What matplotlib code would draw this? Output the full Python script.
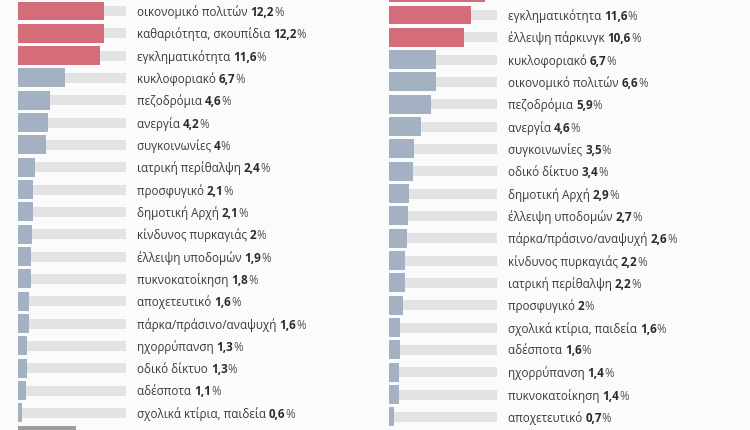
import matplotlib.pyplot as plt

plt.rcParams['font.family'] = ['Open Sans', 'DejaVu Sans']

# αριστερή στήλη
left_labels = ['οικονομικό πολιτών', 'καθαριότητα, σκουπίδια', 'εγκληματικότητα',
               'κυκλοφοριακό', 'πεζοδρόμια', 'ανεργία', 'συγκοινωνίες',
               'ιατρική περίθαλψη', 'προσφυγικό', 'δημοτική Αρχή', 'κίνδυνος πυρκαγιάς',
               'έλλειψη υποδομών', 'πυκνοκατοίκηση', 'αποχετευτικό',
               'πάρκα/πράσινο/αναψυχή', 'ηχορρύπανση', 'οδικό δίκτυο', 'αδέσποτα',
               'σχολικά κτίρια, παιδεία']
left_values = [12.2, 12.2, 11.6, 6.7, 4.6, 4.2, 4.0, 2.4, 2.1, 2.1, 2.0, 1.9, 1.8,
               1.6, 1.6, 1.3, 1.3, 1.1, 0.6]

# δεξιά στήλη (η πρώτη μπάρα είναι κομμένη στην εικόνα)
right_labels = ['', 'εγκληματικότητα', 'έλλειψη πάρκινγκ', 'κυκλοφοριακό',
                'οικονομικό πολιτών', 'πεζοδρόμια', 'ανεργία', 'συγκοινωνίες',
                'οδικό δίκτυο', 'δημοτική Αρχή', 'έλλειψη υποδομών',
                'πάρκα/πράσινο/αναψυχή', 'κίνδυνος πυρκαγιάς', 'ιατρική περίθαλψη',
                'προσφυγικό', 'σχολικά κτίρια, παιδεία', 'αδέσποτα', 'ηχορρύπανση',
                'πυκνοκατοίκηση', 'αποχετευτικό']
right_values = [13.6, 11.6, 10.6, 6.7, 6.6, 5.9, 4.6, 3.5, 3.4, 2.9, 2.7, 2.6, 2.2,
                2.2, 2.0, 1.6, 1.6, 1.4, 1.4, 0.7]

scale_max = 15.3   # μήκος γκρι φόντου
top_n = 3          # κόκκινες μπάρες
footer_value = 8.2

RED = '#d56c79'
BLUE = '#a3b1c3'
TRACK = '#e3e3e3'
BG = '#fbfbfb'

W, H = 750, 430
FS = 8.4
fig = plt.figure(figsize=(7.5, 4.3), dpi=100, facecolor=BG)


def fmt(v):
    s = ('%.1f' % v).replace('.', ',')
    if s.endswith(',0'):
        s = s[:-2]
    return s


def panel(x0, first_px, labels, values, n_red, footer=None):
    ax = fig.add_axes([x0 / W, 0, 108 / W, 1])
    ax.set_facecolor('none')
    step = 22.33
    ax.set_xlim(0, scale_max)
    ax.set_ylim((H - first_px) / step, -first_px / step)
    ax.axis('off')
    rows = list(range(len(values)))
    ax.barh(rows, [scale_max] * len(values), height=0.45, color=TRACK, zorder=1)
    colors = [RED if i < n_red else BLUE for i in range(len(values))]
    ax.barh(rows, values, height=0.85, color=colors, zorder=2)
    if footer is not None:
        ax.barh([rows[-1] + 1], [footer], height=0.85, color='#9c9c9c', zorder=2)
    for r, lab, v in zip(rows, labels, values):
        if not lab:
            continue
        t1 = ax.annotate(lab + ' ', xy=(scale_max, r), xytext=(11, -1),
                         textcoords='offset pixels', va='center', ha='left',
                         fontsize=FS, color='#3b3b3b', annotation_clip=False)
        t2 = ax.annotate(fmt(v), xy=(1, 0), xycoords=t1, va='bottom', ha='left',
                         fontsize=FS, fontweight='bold', color='#2b2b2b')
        ax.annotate('%', xy=(1, 0), xycoords=t2, va='bottom', ha='left',
                    fontsize=FS, color='#555555')
    return ax


panel(18, 11, left_labels, left_values, top_n, footer=footer_value)
panel(389, 15 - 22.33, right_labels, right_values, top_n)

fig.savefig('out.png', dpi=100, facecolor=BG)
